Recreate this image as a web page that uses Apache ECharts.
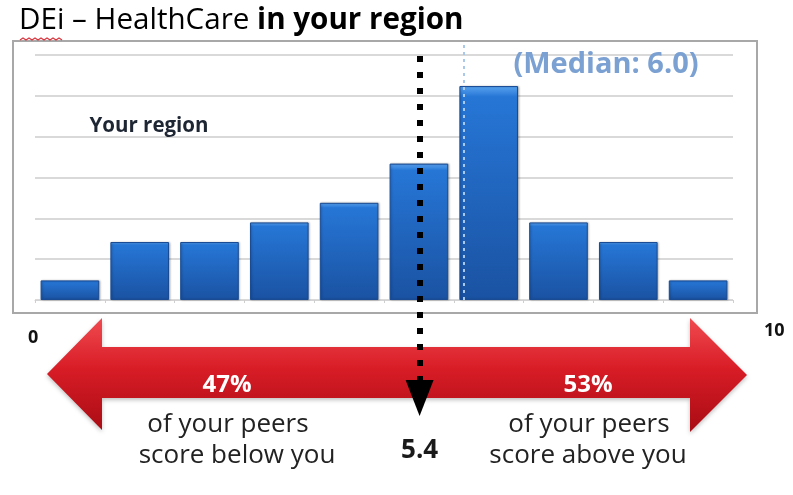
<!DOCTYPE html>
<html>
<head>
<meta charset="utf-8">
<script src="https://cdn.jsdelivr.net/npm/echarts@6/dist/echarts.min.js"></script>
<style>
  html, body { margin: 0; padding: 0; background: #fff; }
  #chart { width: 793px; height: 495px; }
</style>
</head>
<body>
<div id="chart"></div>
<script>
// score bins 0-10 and share of peers (%) in each
const bins = ['0-1', '1-2', '2-3', '3-4', '4-5', '5-6', '6-7', '7-8', '8-9', '9-10']
const shares = [2.4, 7.1, 7.1, 9.5, 11.9, 16.7, 26.2, 9.5, 7.1, 2.4]
const shareMax = 30
const shareStep = 5
const scoreTicks = [0, 10]
const yourScore = 5.4
const medianScore = 6.0
const belowPct = 47
const abovePct = 53

const chart = echarts.init(document.getElementById('chart'))

const barColor = new echarts.graphic.LinearGradient(0, 0, 0, 1, [
  { offset: 0, color: '#5aa4f0' },
  { offset: 0.05, color: '#2676d6' },
  { offset: 1, color: '#1a52a2' }
])

const arrowColor = new echarts.graphic.LinearGradient(0, 0, 0, 1, [
  { offset: 0, color: '#f04a50' },
  { offset: 0.45, color: '#d81c26' },
  { offset: 1, color: '#a80c14' }
])

const font = "'Open Sans', sans-serif"

function label(text, x, y, size, color, weight) {
  return {
    type: 'text', z: 10, x: x, y: y,
    style: {
      text: text, fontFamily: font, fontSize: size, fill: color,
      fontWeight: weight || 'normal', align: 'center', verticalAlign: 'middle'
    }
  }
}

const option = {
  animation: false,
  backgroundColor: '#fff',
  grid: [
    { left: 35, right: 60, top: 55, bottom: 195 },   // bars
    { left: 20, right: 33, top: 41, bottom: 195 },   // median line
    { left: 20, right: 33, top: 53, bottom: 97 }     // your score arrow
  ],
  xAxis: [
    {
      gridIndex: 0,
      type: 'category',
      data: bins,
      axisLine: { lineStyle: { color: '#d4d4d4', width: 1 } },
      axisTick: { show: true, length: 3, lineStyle: { color: '#cfcfcf' } },
      axisLabel: { show: false }
    },
    {
      gridIndex: 1,
      type: 'value',
      min: scoreTicks[0],
      max: scoreTicks[1],
      interval: 10,
      axisLine: { show: false },
      axisTick: { show: false },
      splitLine: { show: false },
      axisLabel: {
        margin: 22,
        alignMinLabel: 'left',
        alignMaxLabel: 'left',
        formatter: v => v === 0 ? '{a|0}' : '{b|' + v + '}',
        rich: {
          a: { padding: [7, 0, 0, 8], fontFamily: font, fontWeight: 'bold', fontSize: 18, color: '#111' },
          b: { padding: [0, 0, 0, 4], fontFamily: font, fontWeight: 'bold', fontSize: 18, color: '#111' }
        }
      }
    },
    {
      gridIndex: 2,
      type: 'value',
      min: scoreTicks[0],
      max: scoreTicks[1],
      show: false
    }
  ],
  yAxis: [
    {
      gridIndex: 0,
      type: 'value',
      min: 0,
      max: shareMax,
      interval: shareStep,
      axisLine: { show: false },
      axisTick: { show: false },
      axisLabel: { show: false },
      splitLine: { lineStyle: { color: '#d9d9d9', width: 2 } }
    },
    { gridIndex: 1, type: 'value', min: 0, max: 1, show: false },
    { gridIndex: 2, type: 'value', min: 0, max: 1, show: false }
  ],
  series: [
    {
      type: 'bar',
      xAxisIndex: 0,
      yAxisIndex: 0,
      data: shares,
      barCategoryGap: '16%',
      itemStyle: {
        color: barColor,
        borderColor: '#184b94',
        borderWidth: 1,
        shadowColor: 'rgba(0,0,0,0.25)',
        shadowBlur: 2,
        shadowOffsetX: 1
      },
      z: 3
    },
    {
      type: 'line',
      xAxisIndex: 1,
      yAxisIndex: 1,
      data: [],
      markLine: {
        silent: true,
        symbol: 'none',
        label: { show: false },
        lineStyle: { color: '#a9c9ec', width: 2, type: [3, 4] },
        data: [{ xAxis: medianScore }]
      },
      z: 4
    },
    {
      type: 'line',
      xAxisIndex: 2,
      yAxisIndex: 2,
      data: [],
      markLine: {
        silent: true,
        symbol: ['triangle', 'none'],
        symbolSize: [28, 36],
        lineStyle: { color: '#000', width: 6, type: [6, 10] },
        label: {
          show: true,
          position: 'start',
          distance: 40,
          fontFamily: font,
          fontWeight: 'bold',
          fontSize: 26,
          color: '#1a1a1a',
          formatter: () => yourScore.toFixed(1)
        },
        data: [{ xAxis: yourScore }]
      },
      z: 20
    }
  ],
  graphic: [
    // chart area frame
    {
      type: 'rect',
      z: 0,
      shape: { x: 13, y: 41, width: 744, height: 272 },
      style: { fill: 'none', stroke: '#a8a8a8', lineWidth: 2 }
    },
    // title
    {
      type: 'text',
      x: 19,
      y: 21,
      style: {
        text: '{d|DEi}{n| – HealthCare }{b|in your region}',
        verticalAlign: 'middle',
        rich: {
          d: { fontFamily: font, fontSize: 29.6, color: '#4f73ad' },
          n: { fontFamily: font, fontSize: 29.6, color: '#1c2230' },
          b: { fontFamily: font, fontSize: 29.6, fontWeight: 'bold', color: '#111' }
        }
      }
    },
    {
      type: 'polyline',
      shape: { points: [[20, 40], [23, 38], [26, 40], [29, 38], [32, 40], [35, 38], [38, 40], [41, 38], [44, 40], [47, 38], [50, 40], [53, 38], [56, 40], [59, 38], [62, 40]] },
      style: { stroke: '#d9363e', lineWidth: 1.2, fill: 'none' },
      z: 12
    },
    label('Your region', 149, 126, 20.5, '#1e2634', 'bold'),
    label('(Median: ' + medianScore.toFixed(1) + ')', 606, 65, 29, '#7ba0d2', 'bold'),
    // red double arrow
    {
      type: 'polygon',
      z: 5,
      shape: {
        points: [[47, 374], [102, 318], [102, 347], [690, 347], [690, 318], [747, 375], [690, 432], [690, 398], [102, 398], [102, 430]]
      },
      style: { fill: arrowColor, shadowColor: 'rgba(0,0,0,0.25)', shadowBlur: 4, shadowOffsetY: 2 }
    },
    label(belowPct + '%', 227, 385, 24, '#fff', 'bold'),
    label(abovePct + '%', 588, 385, 24, '#fff', 'bold'),
    label('of your peers', 228, 425, 26, '#222'),
    label('score below you', 237, 456, 26, '#222'),
    label('of your peers', 589, 425, 26, '#222'),
    label('score above you', 588, 456, 26, '#222')
  ]
}

chart.setOption(option)
</script>
</body>
</html>
